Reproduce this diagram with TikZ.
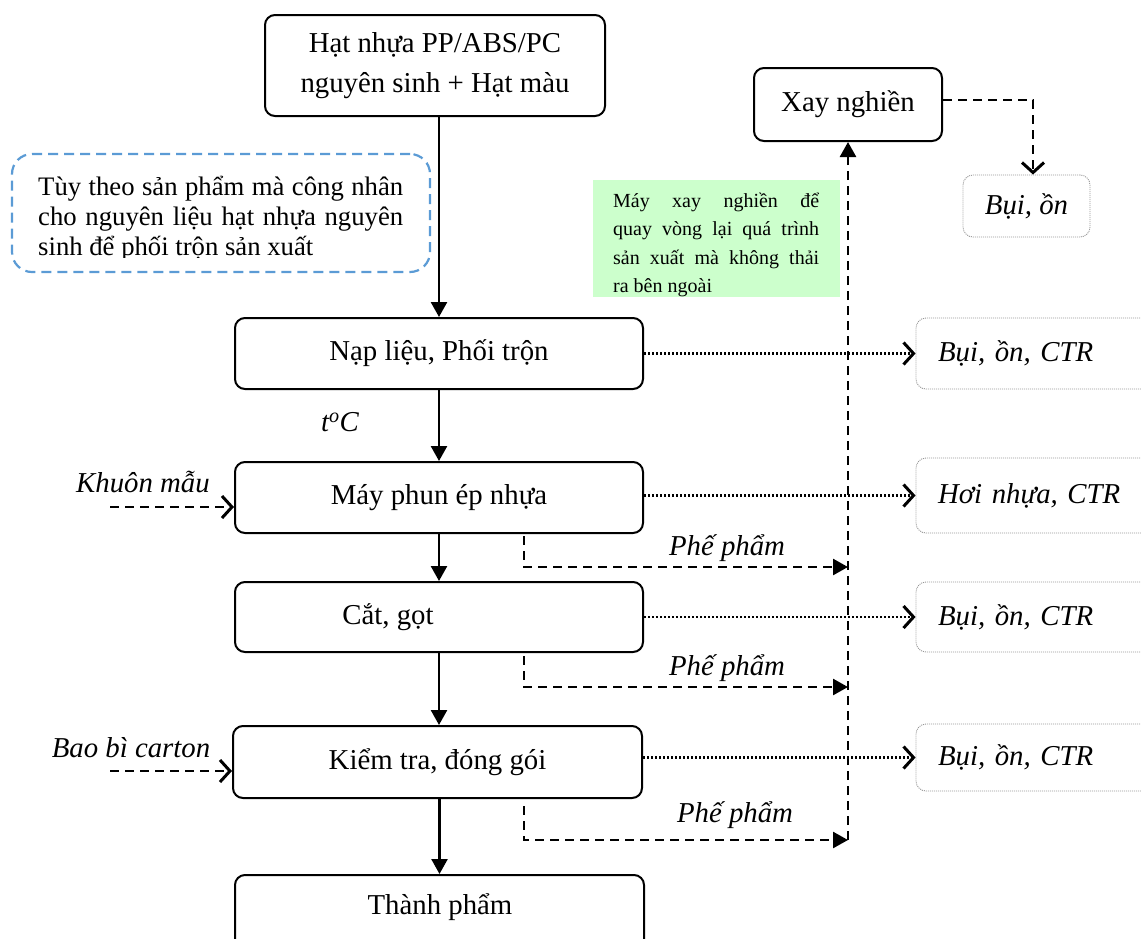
\documentclass[tikz,border=0pt]{standalone}
\usepackage{fontspec}
\setmainfont{Liberation Serif}
\usetikzlibrary{arrows.meta}
\definecolor{mint}{RGB}{204,255,204}
\definecolor{noteblue}{RGB}{91,155,213}
\definecolor{framegray}{RGB}{150,150,150}
\newcommand\bigtxt{\fontsize{28.8}{40}\selectfont}
\newcommand\loosepar{\tolerance=9999\relax\hbadness=10000\relax}
\begin{document}
\begin{tikzpicture}[x=1pt,y=-1pt,
  box/.style={draw, line width=2pt, rounded corners=10pt, inner sep=0pt,
    font=\bigtxt, align=center},
  outbox/.style={draw=framegray, line width=0.9pt, dash pattern=on 1pt off 1pt,
    rounded corners=10pt, inner sep=0pt, font=\bigtxt\itshape},
  lbl/.style={inner sep=0pt, font=\bigtxt\itshape},
  flow/.style={line width=2.5pt, -{Triangle[length=15pt,width=16pt]}},
  waste/.style={line width=2.6pt, dash pattern=on 9pt off 6pt,
    -{Triangle[length=15pt,width=16pt]}},
  dasharrow/.style={line width=2.6pt, dash pattern=on 9pt off 6pt,
    -{Straight Barb[length=10pt,width=22pt,line width=3pt]}},
  dotarrow/.style={line width=2.6pt, dash pattern=on 2pt off 2pt,
    -{Straight Barb[length=10pt,width=22pt,line width=3pt]}},
  memo/.style={inner sep=0pt, align=justify},
]
\clip (0,0) rectangle (1141,938);

% remark about mixing raw material
\node[draw=noteblue, line width=2.2pt, dash pattern=on 10pt off 6pt,
  rounded corners=20pt, minimum width=418pt, minimum height=118pt] (note) at (221,213) {};
\begin{scope}
  \clip (0,140) rectangle (440,257.5);
  \node[memo, anchor=base west, text width=365pt,
    font=\fontsize{26.7}{30}\selectfont\loosepar] (notetxt) at (38,195)
    {Tùy theo sản phẩm mà công nhân\linebreak cho nguyên liệu hạt nhựa nguyên\linebreak sinh để phối trộn sản xuất};
\end{scope}

% remark about the grinder
\node[fill=mint, inner sep=0pt, minimum width=247pt, minimum height=117pt] (gbox) at (716.5,238) {};
\node[memo, anchor=base west, text width=206pt,
  font=\fontsize{20}{28.5}\selectfont\loosepar] (gtxt) at (613,207)
  {Máy xay nghiền để\linebreak quay vòng lại quá trình\linebreak sản xuất mà không thải\linebreak ra bên ngoài};

% main process chain
\node[box, minimum width=340pt, minimum height=101pt] (raw) at (435,65.5)
  {Hạt nhựa PP/ABS/PC\\nguyên sinh + Hạt màu};
\node[box, minimum width=408pt, minimum height=71pt] (nap) at (439,353.5) {Nạp liệu, Phối trộn};
\node[box, minimum width=408pt, minimum height=71pt] (phun) at (439,497.5) {Máy phun ép nhựa};
\node[box, minimum width=408pt, minimum height=70pt] (cat) at (439,617) {};
\node[inner sep=0pt, font=\bigtxt] (cattxt) at (388,617) {Cắt, gọt};
\node[box, minimum width=409pt, minimum height=72pt] (kiem) at (437.5,762) {Kiểm tra, đóng gói};
\node[box, minimum width=409pt, minimum height=86pt] (tp) at (439.5,918) {};
\node[inner sep=0pt, font=\bigtxt] (tptxt) at (440,907) {Thành phẩm};

\draw[flow] (raw.south -| nap.north) -- (nap.north);
\draw[flow] (nap.south) -- (phun.north);
\draw[flow] (phun.south) -- (cat.north);
\draw[flow] (cat.south) -- (cat.south |- kiem.north);
\draw[flow] (kiem.south -| tp.north) -- (tp.north);

\node[lbl] (temp) at (340,422) {t\textsuperscript{o}C};

% inputs
\coordinate (kin) at (110,507);
\coordinate (bin) at (110,771);
\node[lbl] (klbl) at (143,482) {Khuôn mẫu};
\node[lbl] (blbl) at (131,748) {Bao bì carton};
\draw[dasharrow] (kin) -- (kin -| phun.west);
\draw[dasharrow] (bin) -- (bin -| kiem.west);

% grinder and recycling of rejects
\node[box, minimum width=188pt, minimum height=73pt] (xay) at (848,104.5) {Xay nghiền};
\node[outbox, minimum width=127pt, minimum height=62pt] (dust0) at (1026.5,206) {Bụi, ồn};
\draw[dasharrow] ([yshift=4.5pt]xay.east) -| ([xshift=6.5pt]dust0.north);

\coordinate (r1) at (848,567);
\coordinate (r2) at (848,687);
\coordinate (r3) at (848,840);
\draw[waste] (r3) -- (xay.south);
\draw[waste] ([xshift=290pt,yshift=-2pt]phun.south west) |- (r1);
\draw[waste] ([xshift=290pt,yshift=-3pt]cat.south west) |- (r2);
\draw[waste] ([xshift=292pt,yshift=-7pt]kiem.south west) |- (r3);
\node[lbl] (pp1) at (727,548) {Phế phẩm};
\node[lbl] (pp2) at (727,668) {Phế phẩm};
\node[lbl] (pp3) at (735,815) {Phế phẩm};

% emissions
\node[outbox, minimum width=254pt, minimum height=71pt, text width=210pt, align=left] (o1) at (1043,353.5) {Bụi, ồn, CTR};
\node[outbox, minimum width=254pt, minimum height=75pt, text width=210pt, align=left] (o2) at (1043,495.5) {Hơi nhựa, CTR};
\node[outbox, minimum width=254pt, minimum height=70pt, text width=210pt, align=left] (o3) at (1043,617) {Bụi, ồn, CTR};
\node[outbox, minimum width=254pt, minimum height=67pt, text width=210pt, align=left] (o4) at (1043,757.5) {Bụi, ồn, CTR};

\draw[dotarrow] (nap.east) -- (o1.west);
\draw[dotarrow] (phun.east |- o2.west) -- (o2.west);
\draw[dotarrow] (cat.east) -- (o3.west);
\draw[dotarrow] (kiem.east |- o4.west) -- (o4.west);
\end{tikzpicture}
\end{document}
